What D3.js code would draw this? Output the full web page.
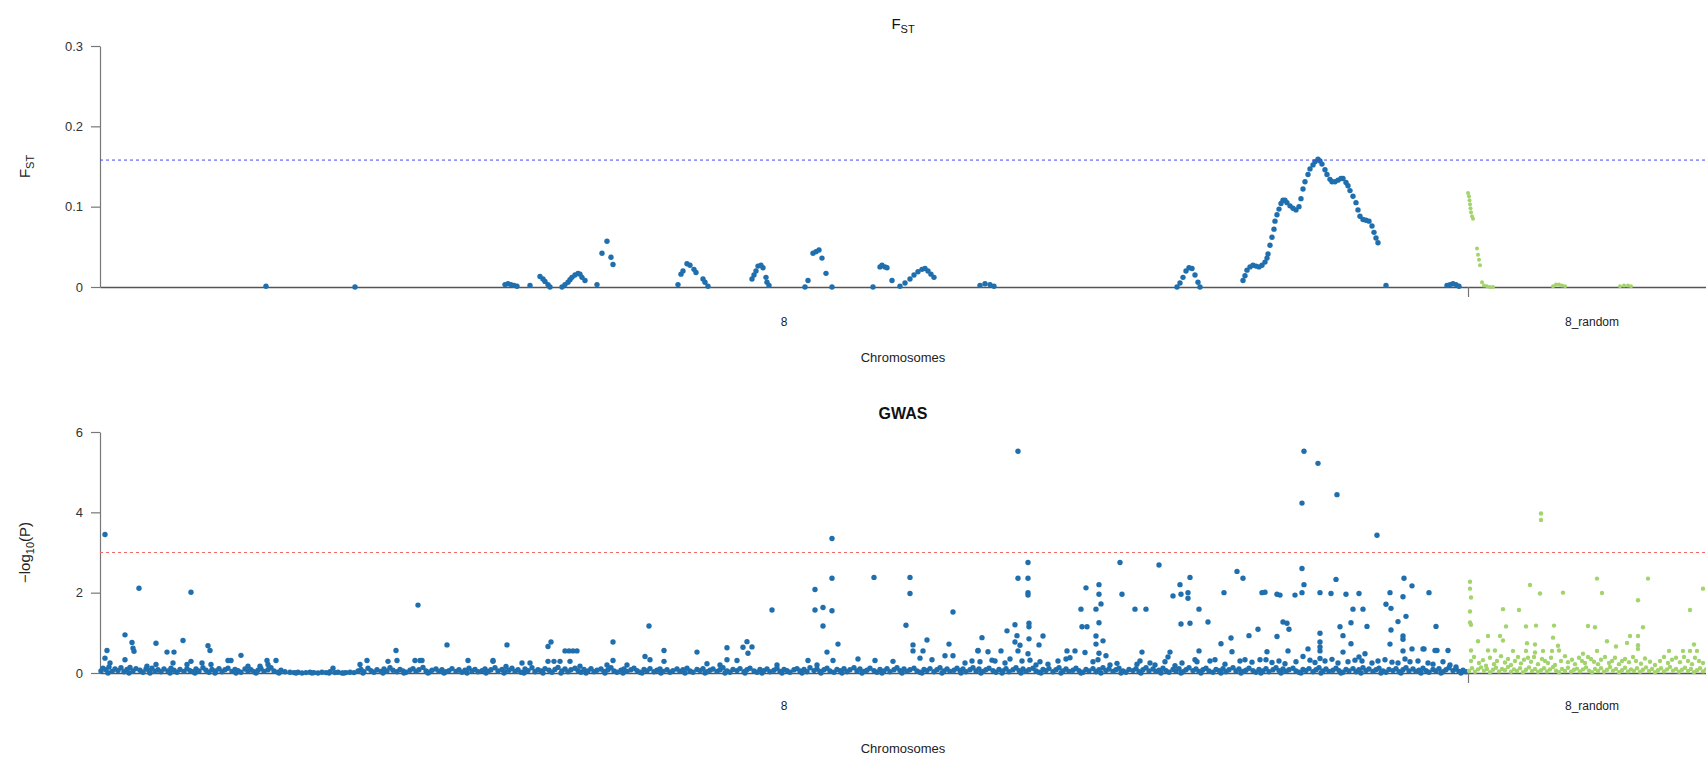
<!DOCTYPE html>
<html>
<head>
<meta charset="utf-8">
<script src="https://cdn.jsdelivr.net/npm/d3@7"></script>
<style>
  html, body { margin: 0; padding: 0; background: #fff; }
  svg { display: block; font-family: "Liberation Sans", Arial, Helvetica, sans-serif; }
</style>
</head>
<body>
<svg id="chart" width="1706" height="758"></svg>
<script>
// ---------------- DATA ----------------
const chromosomes = ["8", "8_random"];
const chromLengths = [136.8, 24.8];          // relative lengths (Mb-like units)
const chromColors = ["#1f6fae", "#a3d46b"];

const fstTicks = [0, 0.1, 0.2, 0.3];
const fstTickLabels = ["0", "0.1", "0.2", "0.3"];
const gwasTicks = [0, 2, 4, 6];
const gwasTickLabels = ["0", "2", "4", "6"];
const fstThreshold = 0.158;
const gwasThreshold = 3;

// FST, chromosome 8: [position, Fst]
const fstChr8 = [
[16.6,.001],[25.5,0],[40.5,.003],[40.8,.004],[41.1,.003],[41.4,.002],[41.7,.001],[43,.002],[44,.013],[44.3,.01],[44.5,.007],[44.8,.003],[45,0],
[46.2,0],[46.5,.003],[46.8,.006],[47,.009],[47.2,.012],[47.5,.015],[47.8,.017],[48,.016],[48.2,.012],[48.5,.008],[49.7,.003],
[50.2,.042],[50.7,.057],[51.1,.037],[51.3,.028],
[57.8,.003],[58.1,.016],[58.3,.02],[58.7,.029],[59,.027],[59.4,.022],[59.6,.018],[60.3,.01],[60.5,.006],[60.8,.001],
[65.2,.01],[65.4,.015],[65.6,.02],[65.8,.026],[66.1,.027],[66.3,.024],[66.6,.012],[66.7,.006],[66.9,.002],
[70.5,0],[70.8,.008],[71.3,.042],[71.6,.044],[71.9,.046],[72.2,.036],[72.6,.017],[73.2,0],
[77.3,0],[78,.025],[78.2,.027],[78.5,.025],[78.7,.024],[79.2,.008],
[80,.001],[80.5,.005],[81,.01],[81.4,.015],[81.8,.019],[82.2,.022],[82.5,.023],[82.8,.02],[83.1,.016],[83.4,.012],
[88,.002],[88.5,.004],[89,.003],[89.4,.001],
[107.7,0],[108,.005],[108.3,.012],[108.6,.02],[108.9,.024],[109.2,.023],[109.5,.015],[109.8,.006],[110,0],
[114.3,.008],[114.5,.014],[114.7,.021],[115,.025],[115.3,.027],[115.6,.026],[115.9,.025],[116.2,.027],[116.5,.031],[116.7,.036],
[116.8,.041],[117,.052],[117.2,.062],[117.4,.072],[117.5,.082],[117.7,.09],[117.9,.097],[118.1,.104],[118.3,.108],[118.5,.108],
[118.7,.105],[119,.101],[119.3,.098],[119.6,.096],[119.9,.1],[120.1,.11],[120.3,.122],[120.5,.131],[120.8,.14],[121,.147],
[121.3,.152],[121.5,.156],[121.8,.159],[122,.157],[122.2,.153],[122.5,.146],[122.7,.14],[123,.134],[123.2,.131],[123.5,.131],
[123.8,.133],[124.1,.135],[124.3,.135],[124.6,.13],[124.8,.126],[125,.12],[125.3,.113],[125.6,.105],[125.8,.096],[126,.088],
[126.3,.084],[126.6,.083],[126.9,.082],[127.2,.076],[127.4,.068],[127.6,.061],[127.8,.055],
[128.6,.002],[134.7,.002],[135,.003],[135.3,.004],[135.6,.003],[135.9,.001]
];

// FST, chromosome 8_random: [position, Fst]
const fstRandom = [
[0,.117],[0.1,.113],[0.15,.108],[0.2,.103],[0.25,.098],[0.3,.093],[0.4,.088],[0.5,.085],
[0.9,.048],[1,.04],[1.1,.034],[1.2,.027],[1.4,.006],[1.6,.002],[1.9,.001],[2.2,0],[2.5,0],
[8.5,.001],[8.8,.003],[9.1,.003],[9.4,.002],[9.7,.001],[15.2,.001],[15.6,.002],[16,.002],[16.3,.001]
];

// GWAS, chromosome 8: notable SNPs [position, -log10 P]
const gwasChr8Top = [
[0.5,3.45],[0.7,.56],[0.5,.37],[1,.25],[2.5,.95],[2.5,.33],[3.2,.76],[3.3,.62],[3.4,.54],[3.9,2.11],[4.7,.17],[5.6,.74],[5.6,.21],
[6.7,.52],[7.4,.52],[7.3,.25],[8.3,.81],[8.7,.21],[9.1,2.01],[9.1,.29],[10.2,.25],[10.8,.68],[11,.56],[11.1,.21],[12.8,.31],[13.1,.31],
[14.1,.44],[14.8,.17],[16,.17],[16.7,.31],[16.8,.21],[17.6,.31],[23.3,.12],[26,.21],[26.7,.31],[28.8,.29],[29.6,.56],[29.7,.31],
[31.5,.31],[31.8,1.69],[32,.31],[32.2,.31],[34.7,.7],[36.8,.31],[39.3,.29],[39.3,.31],
[40.6,.16],[40.7,.7],[42.2,.25],[43,.25],[44.8,.66],[44.8,.29],[45.1,.77],[45.4,.29],[46,.29],[46.5,.55],[46.9,.55],[47.3,.55],
[47.7,.55],[47,.29],[48,.17],[50.7,.2],[51.3,.77],[51.3,.31],[52.7,.2],[54.5,.41],[54.9,1.17],[55,.33],[56.4,.56],[56.4,.29],
[59.7,.52],[60.7,.23],[62,.2],[62.7,.63],[62.7,.33],[63.7,.31],[64.3,.64],[64.7,.78],[64.8,.49],[65.2,.65],[67.2,1.57],[67.7,.2],
[70.8,.31],[71.5,2.08],[71.5,1.57],[71.7,.2],[72.3,1.63],[72.3,1.17],[72.7,.52],[73.2,3.35],[73.2,2.36],[73.2,1.55],[73.3,.31],
[73.8,.72],[75.8,.35],[77.4,2.38],[77.5,.31],[79.3,.29],[80.6,1.19],[81,2.38],[81,1.98],[81.3,.7],[81.3,.55],[82,.37],[82.3,.55],
[82.7,.82],[83.2,.33],[84.5,.43],[84.9,.72],[85.3,1.52],[85.3,.43],[87.8,.56],
[88.2,.88],[87.8,.55],[88.8,.53],[90.1,.55],[90.7,1.05],[91.5,1.2],[91.7,.93],[91.5,.77],[92,.69],[91.8,.55],[91.8,5.52],[91.8,2.36],
[92.8,2.75],[92.8,2.36],[92.8,2],[92.8,1.94],[92.9,1.24],[92.9,1.15],[92.9,.85],[92.8,.48],[93.9,.7],[94.3,.92],[96.7,.55],[97.5,.55],
[98.5,.51],[98.6,2.12],[99.9,2.2],[99.9,1.96],[100.1,1.72],[99.6,1.59],[98.1,1.59],[98.2,1.15],[98.7,1.15],[99.9,1.25],[99.6,.92],
[100.3,.8],[99.6,.72],[99.9,.49],[100.6,.43],[102,2.75],[102.2,1.96],[103.5,1.59],[104.6,1.59],[104.2,.52],[105.9,2.69],[107,.52],
[106.8,.4],[107.3,1.92],[108,2.2],[108.1,1.96],[108.8,2],[108.8,1.86],[109,2.38],[109.9,1.59],[108.1,1.22],[109,1.24],[110.8,1.27],
[109.9,.55],[109.7,.28],[112.4,2],[112.1,.73],[113.1,.87],[113.2,.53],[113.7,2.53],[114.3,2.36],[114.9,.93],[115.8,1.09],[116.2,2],
[116.5,2.01],[117.7,1.96],[118,1.94],[118.3,1.27],[118.7,1.24],[118.9,1.09],[117.7,.91],[116.7,.53],[118.8,.55],[119.5,1.94],
[120.2,2],[120.2,2.6],[120.4,2.2],[120.2,4.23],[120.4,5.52],[121.8,5.22],[123.7,4.44],[127.7,3.43],[120.3,.41],[120.8,.6],[122,.99],
[122,.77],[122,.65],[122,.55],[122,.36],[122,2],[123.1,1.98],[123.6,2.33],[124.6,1.96],[125.9,1.98],[124,1.15],[125.1,1.25],
[124.3,.93],[125.1,.73],[125.3,1.59],[126.3,1.59],[126.7,1.16],[124.3,.52],[126.5,.48],[125.9,.4],[128.6,1.71],[129.1,1.61],
[129.8,1.28],[130.6,1.41],[129.1,1.07],[130.3,.92],[130.3,.84],[129,.72],[131.2,.6],[132.3,.6],[130.3,.55],[130.4,2.36],[131.2,2.17],
[129,2],[130.3,1.9],[132.9,2],[133.6,1.16],[133.7,.56],[134.8,.56],[132.4,.6],[133.5,.56]
];

// GWAS, chromosome 8: mid-level SNPs
const gwasChr8Mid = [
[86.5,.25],[87.2,.3],[88,.28],[89.2,.32],[89.5,.3],[90.5,.25],[91,.35],[92.2,.3],[93,.32],[93.6,.2],[94,.28],[94.8,.22],[95.8,.3],
[96.6,.35],[97,.38],[99.3,.28],[99.8,.33],[101,.2],[101.7,.24],[103.7,.22],[104,.3],[105,.25],[105.5,.2],[106.5,.28],[107.5,.18],
[108.2,.25],[109.5,.33],[111,.3],[111.5,.33],[112.5,.22],[114,.3],[114.5,.33],[115.2,.27],[116,.33],[116.6,.33],[117.2,.26],[117.9,.3],
[118.5,.23],[119.6,.28],[121,.32],[121.5,.26],[122.5,.3],[123.2,.34],[123.8,.25],[124.8,.28],[125.5,.32],[126.2,.3],[127.2,.25],
[127.8,.3],[128.5,.33],[129.2,.27],[129.8,.25],[130.5,.35],[131,.28],[131.8,.3],[132.8,.25],[133.3,.22],[134.3,.28],[135,.2],[135.6,.15]
];

// GWAS, chromosome 8: low background SNPs
const gwasChr8Low = [
[0.1,.05],[0.3,.12],[0.6,.08],[0.9,.15],[1.2,.04],[1.5,.1],[1.8,.06],[2.1,.13],[2.4,.03],[2.7,.09],[3,.14],[3.3,.05],[3.6,.11],[4,.07],
[4.3,.02],[4.6,.1],[4.9,.06],[5.2,.12],[5.5,.04],[5.8,.08],[6.1,.03],[6.4,.1],[6.8,.05],[7.1,.12],[7.4,.07],[7.7,.02],[8,.09],[8.4,.04],
[8.7,.11],[9,.06],[9.3,.03],[9.6,.1],[9.9,.05],[10.3,.13],[10.6,.07],[10.9,.02],[11.2,.09],[11.6,.05],[11.9,.11],[12.2,.03],[12.5,.08],
[12.8,.12],[13.2,.04],[13.5,.09],[13.8,.06],[14.1,.02],[14.5,.1],[14.8,.05],[15.1,.08],[15.4,.03],[15.8,.07],[16.1,.11],[16.4,.04],
[16.8,.08],[17.1,.13],[17.4,.05],[17.8,.02],[18.1,.07],[18.5,.03],
[19,.02],[19.4,.01],[19.8,.02],[20.2,0],[20.6,.01],[21,.02],[21.4,.01],[21.8,0],[22.2,.02],[22.6,.01],[23,.03],[23.5,.01],[23.8,.02],
[24.2,0],[24.6,.01],[25,.02],[25.4,.01],
[25.8,.05],[26.1,.09],[26.4,.03],[26.8,.12],[27.1,.06],[27.4,.02],[27.7,.08],[28.1,.04],[28.4,.1],[28.7,.05],[29,.13],[29.3,.07],
[29.7,.03],[30,.09],[30.3,.05],[30.6,.02],[31,.07],[31.3,.11],[31.6,.04],[31.9,.08],[32.3,.14],[32.6,.05],[32.9,.02],[33.2,.07],
[33.6,.1],[33.9,.04],[34.2,.08],[34.6,.03],[34.9,.06],[35.2,.11],[35.6,.04],[35.9,.08],[36.2,.02],[36.5,.07],[36.9,.12],[37.2,.05],
[37.5,.09],[37.8,.03],[38.2,.06],[38.5,.1],[38.8,.04],[39.1,.08],[39.5,.13],[39.8,.05],
[40.2,.09],[40.5,.03],[40.9,.07],[41.2,.12],[41.5,.04],[41.8,.08],[42.1,.02],[42.5,.1],[42.8,.06],[43.2,.13],[43.5,.03],[43.8,.08],
[44.1,.05],[44.5,.11],[44.9,.07],[45.2,.02],[45.5,.09],[45.8,.14],[46.2,.05],[46.5,.1],[46.8,.03],[47.1,.08],[47.5,.12],[47.8,.06],
[48.1,.02],[48.4,.09],[48.8,.05],[49.1,.11],[49.4,.03],[49.7,.07],[50.1,.1],[50.4,.04],[50.8,.08],[51.1,.13],[51.4,.05],[51.7,.02],
[52.1,.07],[52.4,.1],[52.7,.04],[53.1,.08],[53.4,.12],[53.7,.06],[54,.02],[54.4,.09],[54.7,.05],[55,.11],[55.4,.03],[55.7,.07],
[56,.1],[56.3,.04],[56.7,.08],[57,.02],[57.3,.06],[57.7,.1],[58,.04],[58.3,.08],[58.7,.12],[59,.05],[59.3,.02],[59.7,.09],[60,.06],
[60.3,.11],[60.7,.03],[61,.07],[61.3,.1],[61.7,.04],[62,.08],[62.3,.13],[62.7,.05],[63,.02],[63.3,.09],[63.7,.06],[64,.11],[64.4,.03],
[64.7,.08],[65,.12],[65.4,.05],[65.7,.02],[66,.09],[66.4,.06],[66.7,.1],[67,.03],[67.4,.07],[67.7,.12],[68,.04],[68.4,.09],[68.7,.06],
[69,.02],[69.4,.08],[69.7,.11],[70,.05],[70.4,.09],[70.7,.03],[71,.13],[71.4,.06],[71.7,.1],[72,.04],[72.4,.08],[72.7,.12],[73,.05],
[73.4,.02],[73.7,.09],[74,.06],[74.4,.11],[74.7,.03],[75,.08],[75.4,.13],[75.7,.05],[76,.1],[76.4,.04],[76.7,.07],[77,.12],[77.4,.06],
[77.7,.02],[78,.09],[78.4,.05],[78.7,.11],[79,.03],[79.4,.08],[79.7,.13],[80,.06],[80.4,.1],[80.7,.04],[81,.08],[81.4,.12],[81.7,.05],
[82,.02],[82.4,.09],[82.7,.06],[83,.11],[83.4,.03],[83.7,.08],[84,.13],[84.4,.05],[84.7,.1],[85,.04],[85.4,.07],[85.7,.12],
[86,.06],[86.3,.1],[86.6,.03],[87,.08],[87.3,.13],[87.6,.05],[87.9,.1],[88.3,.04],[88.6,.08],[88.9,.12],[89.3,.06],[89.6,.02],[89.9,.09],
[90.3,.05],[90.6,.11],[90.9,.03],[91.3,.08],[91.6,.13],[91.9,.06],[92.3,.1],[92.6,.04],[92.9,.08],[93.3,.12],[93.6,.05],[93.9,.02],
[94.3,.09],[94.6,.06],[94.9,.11],[95.3,.03],[95.6,.08],[95.9,.13],[96.3,.05],[96.6,.1],[96.9,.04],[97.3,.07],[97.6,.12],[97.9,.06],
[98.3,.02],[98.6,.09],[98.9,.05],[99.3,.11],[99.6,.03],[99.9,.08],[100.3,.13],[100.6,.06],[100.9,.1],[101.3,.04],[101.6,.08],[101.9,.12],
[102.3,.05],[102.6,.02],[102.9,.09],[103.3,.06],[103.6,.11],[103.9,.03],[104.3,.08],[104.6,.13],[104.9,.05],[105.3,.1],[105.6,.04],
[105.9,.07],[106.3,.12],[106.6,.06],[106.9,.02],[107.3,.09],[107.6,.05],[107.9,.11],[108.3,.03],[108.6,.08],[108.9,.13],[109.3,.06],
[109.6,.1],[109.9,.04],[110.3,.08],[110.6,.12],[110.9,.05],[111.3,.02],[111.6,.09],[111.9,.06],[112.3,.11],[112.6,.03],[112.9,.08],
[113.3,.13],[113.6,.05],[113.9,.1],[114.3,.04],[114.6,.07],[114.9,.12],[115.3,.06],[115.6,.02],[115.9,.09],[116.3,.05],[116.6,.11],
[116.9,.03],[117.3,.08],[117.6,.13],[117.9,.06],[118.3,.1],[118.6,.04],[118.9,.08],[119.3,.12],[119.6,.05],[119.9,.02],[120.3,.09],
[120.6,.06],[120.9,.11],[121.3,.03],[121.6,.08],[121.9,.13],[122.3,.05],[122.6,.1],[122.9,.04],[123.3,.07],[123.6,.12],[123.9,.06],
[124.3,.02],[124.6,.09],[124.9,.05],[125.3,.11],[125.6,.03],[125.9,.08],[126.3,.13],[126.6,.06],[126.9,.1],[127.3,.04],[127.6,.08],
[127.9,.12],[128.3,.05],[128.6,.02],[128.9,.09],[129.3,.06],[129.6,.11],[129.9,.03],[130.3,.08],[130.6,.13],[130.9,.05],[131.3,.1],
[131.6,.04],[131.9,.07],[132.3,.12],[132.6,.06],[132.9,.02],[133.3,.09],[133.6,.05],[133.9,.11],[134.3,.03],[134.6,.08],[134.9,.13],
[135.3,.06],[135.6,.1],[135.9,.04],[136.3,.07],[136.6,.03]
];

// GWAS, chromosome 8: SNPs at -log10 P = 0 (positions)
const gwasChr8ZeroPos = [0.8,2.9,5,7,9.5,11.5,13.6,15.6,17.9,19.6,21.2,22.9,24.4,26.3,28.3,30.4,32.8,34.4,36.7,38.6,40.4,42.4,44.3,
46.1,48.6,50.5,52.3,54.2,56.1,58.5,60.5,62.5,64.5,66.2,68.2,70.2,72.1,74.2,76.2,78.2,80.2,82.2,84.2,86.1,88.1,90.2,92.1,94.1,96.1,
98.1,100.1,102.1,104.1,106.1,108.1,110.1,112.1,114.1,116.1,118.1,120.1,122.1,124.1,126.1,128.1,130.1,132.1,134.1,136.1];

// GWAS, chromosome 8_random
const gwasRandomTop = [
[7.3,3.97],[7.3,3.81],[0.2,2.27],[0.2,2.1],[0.3,1.88],[0.2,1.53],[0.2,1.26],[0.3,1.2],[0.3,.56],[0.3,.3],[6.2,2.19],[7.2,1.98],[9.5,2],
[12.9,2.35],[13.4,1.99],[18,2.35],[17,1.81],[23.5,2.1],[3.5,1.59],[5.1,1.57],[22.2,1.57],[3.8,1.16],[5.8,1.16],[6.8,1.18],[8.6,1.18],
[12,1.17],[12.7,1.14],[17.5,1.14],[1,.79],[2,.92],[3.2,.92],[3.5,.81],[5.9,.74],[6.7,.71],[8.5,.88],[9,.68],[13.9,.79],[14.8,.66],
[15.9,.75],[16.2,.92],[17,.92],[17,.69],[17,.6],[22.6,.71],[2,.56],[2.7,.56],[4.5,.55],[5.8,.55],[6.7,.51],[7.5,.55],[8.4,.55],
[9.1,.56],[11.5,.48],[12.9,.55],[20.1,.55],[21.5,.55],[22.2,.55],[22.9,.55]
];
const gwasRandomMid = [
[0.6,.4],[1.1,.25],[1.5,.32],[1.8,.18],[2.2,.38],[2.6,.22],[2.9,.3],[3.3,.42],[3.7,.26],[4,.35],[4.3,.2],[4.7,.3],[5,.4],[5.3,.24],
[5.6,.33],[6,.38],[6.3,.28],[6.6,.4],[7,.22],[7.4,.35],[7.7,.3],[8,.25],[8.3,.38],[8.7,.2],[9.3,.3],[9.7,.42],[10,.27],[10.4,.33],
[10.7,.22],[11.1,.38],[11.4,.3],[11.7,.25],[12,.4],[12.3,.35],[12.6,.28],[13,.22],[13.3,.33],[13.7,.4],[14.1,.25],[14.4,.3],[14.7,.38],
[15.1,.22],[15.4,.3],[15.7,.35],[16.1,.27],[16.5,.4],[16.8,.3],[17.3,.23],[17.7,.36],[18.2,.28],[18.7,.2],[19.2,.3],[19.6,.4],[20,.25],
[20.4,.33],[20.8,.38],[21.2,.27],[21.6,.4],[22,.3],[22.4,.22],[22.7,.38],[23.1,.3],[23.5,.25]
];
const gwasRandomLow = [
[0.1,.05],[0.4,.12],[0.7,.03],[1,.09],[1.3,.14],[1.6,.06],[1.9,.1],[2.2,.02],[2.5,.08],[2.8,.13],[3.1,.04],[3.4,.1],[3.7,.07],[4,.15],
[4.3,.03],[4.6,.09],[4.9,.05],[5.2,.12],[5.5,.02],[5.8,.08],[6.1,.14],[6.4,.05],[6.7,.1],[7,.03],[7.3,.07],[7.6,.12],[7.9,.04],[8.2,.09],
[8.5,.15],[8.8,.06],[9.1,.02],[9.4,.1],[9.7,.05],[10,.13],[10.3,.03],[10.6,.08],[10.9,.11],[11.2,.04],[11.5,.09],[11.8,.14],[12.1,.06],
[12.4,.02],[12.7,.1],[13,.05],[13.3,.12],[13.6,.03],[13.9,.08],[14.2,.15],[14.5,.06],[14.8,.1],[15.1,.02],[15.4,.07],[15.7,.13],[16,.04],
[16.3,.09],[16.6,.05],[16.9,.12],[17.2,.03],[17.5,.08],[17.8,.14],[18.1,.05],[18.4,.1],[18.7,.02],[19,.07],[19.3,.12],[19.6,.04],
[19.9,.09],[20.2,.15],[20.5,.06],[20.8,.1],[21.1,.03],[21.4,.08],[21.7,.13],[22,.05],[22.3,.1],[22.6,.02],[22.9,.07],[23.2,.12],
[23.5,.04],[23.8,.09],[24.1,.05],[24.4,.11],[24.7,.03]
];

// ---------------- CHART ----------------
const svg = d3.select("#chart");
const offsets = [0, chromLengths[0]];
const total = d3.sum(chromLengths);
const left = 100, right = 1716;
const x = d3.scaleLinear().domain([0, total]).range([left, right]);
const centerX = 903;

const panels = [
  { top: 46, bottom: 287, domain: [0, 0.3], ticks: fstTicks, labels: fstTickLabels,
    thr: fstThreshold, thrColor: "#4646f0", titleY: 29, titleBold: false,
    xlabY: 362, chromLabY: 326,
    series: [
      { chrom: 0, data: fstChr8, r: 2.7 },
      { chrom: 1, data: fstRandom, r: 2.0 }
    ] },
  { top: 432, bottom: 673, domain: [0, 6], ticks: gwasTicks, labels: gwasTickLabels,
    thr: gwasThreshold, thrColor: "#ee6a6a", titleY: 419, titleBold: true,
    xlabY: 753, chromLabY: 710,
    series: [
      { chrom: 0, data: gwasChr8ZeroPos.map(p => [p, 0]), r: 2.7 },
      { chrom: 0, data: gwasChr8Low, r: 2.7 },
      { chrom: 0, data: gwasChr8Mid, r: 2.7 },
      { chrom: 0, data: gwasChr8Top, r: 2.7 },
      { chrom: 1, data: gwasRandomLow, r: 2.2 },
      { chrom: 1, data: gwasRandomMid, r: 2.2 },
      { chrom: 1, data: gwasRandomTop, r: 2.2 }
    ] }
];

panels.forEach((p, i) => {
  const y = d3.scaleLinear().domain(p.domain).range([p.bottom, p.top]);
  const g = svg.append("g");

  // y axis
  const yAxis = d3.axisLeft(y).tickValues(p.ticks)
    .tickFormat((d, k) => p.labels[k]).tickSize(9).tickSizeOuter(0).tickPadding(8);
  const ya = g.append("g").attr("transform", `translate(${left},0)`).call(yAxis);
  ya.select(".domain").attr("stroke", "#777").attr("stroke-width", 1.2);
  ya.selectAll(".tick line").attr("stroke", "#777").attr("stroke-width", 1.2);
  ya.selectAll(".tick text").attr("fill", "#333").style("font-size", "13px")
    .style("font-family", "'Liberation Sans', Arial, sans-serif");

  // x axis line and chromosome boundary tick
  const xAxis = d3.axisBottom(x).tickValues([offsets[1]]).tickFormat("").tickSize(10).tickSizeOuter(0);
  const xa = g.append("g").attr("transform", `translate(0,${p.bottom})`).call(xAxis);
  xa.select(".domain").attr("stroke", "#555").attr("stroke-width", 1.6);
  xa.selectAll(".tick line").attr("stroke", "#777").attr("stroke-width", 1.2);

  // chromosome labels
  g.selectAll(".chrlab").data(chromosomes).enter().append("text")
    .attr("x", (d, k) => x(offsets[k] + chromLengths[k] / 2))
    .attr("y", p.chromLabY)
    .attr("text-anchor", "middle")
    .attr("fill", "#222")
    .style("font-size", "12px")
    .text(d => d);

  // points
  p.series.forEach(s => {
    g.append("g").selectAll("circle").data(s.data).enter().append("circle")
      .attr("cx", d => x(offsets[s.chrom] + d[0]))
      .attr("cy", d => y(d[1]))
      .attr("r", s.r)
      .attr("fill", chromColors[s.chrom]);
  });

  // threshold line
  g.append("line")
    .attr("x1", left).attr("x2", right)
    .attr("y1", y(p.thr)).attr("y2", y(p.thr))
    .attr("stroke", p.thrColor).attr("stroke-width", 1)
    .attr("stroke-dasharray", "3,3");

  // x label
  g.append("text").attr("x", centerX).attr("y", p.xlabY)
    .attr("text-anchor", "middle").attr("fill", "#222")
    .style("font-size", "13px").text("Chromosomes");

  // title
  const t = g.append("text").attr("x", centerX).attr("y", p.titleY)
    .attr("text-anchor", "middle").attr("fill", "#111");
  if (i === 0) {
    t.style("font-size", "15px");
    t.append("tspan").text("F");
    t.append("tspan").attr("dy", 4).style("font-size", "11px").text("ST");
  } else {
    t.style("font-size", "16px").style("font-weight", "bold").text("GWAS");
  }

  // y label
  const cy = (p.top + p.bottom) / 2;
  const yl = g.append("text")
    .attr("transform", `translate(30,${cy}) rotate(-90)`)
    .attr("text-anchor", "middle").attr("fill", "#222").style("font-size", "15px");
  if (i === 0) {
    yl.append("tspan").text("F");
    yl.append("tspan").attr("dy", 4).style("font-size", "11px").text("ST");
  } else {
    yl.append("tspan").text("\u2212log");
    yl.append("tspan").attr("dy", 4).style("font-size", "11px").text("10");
    yl.append("tspan").attr("dy", -4).text("(P)");
  }
});
</script>
</body>
</html>
